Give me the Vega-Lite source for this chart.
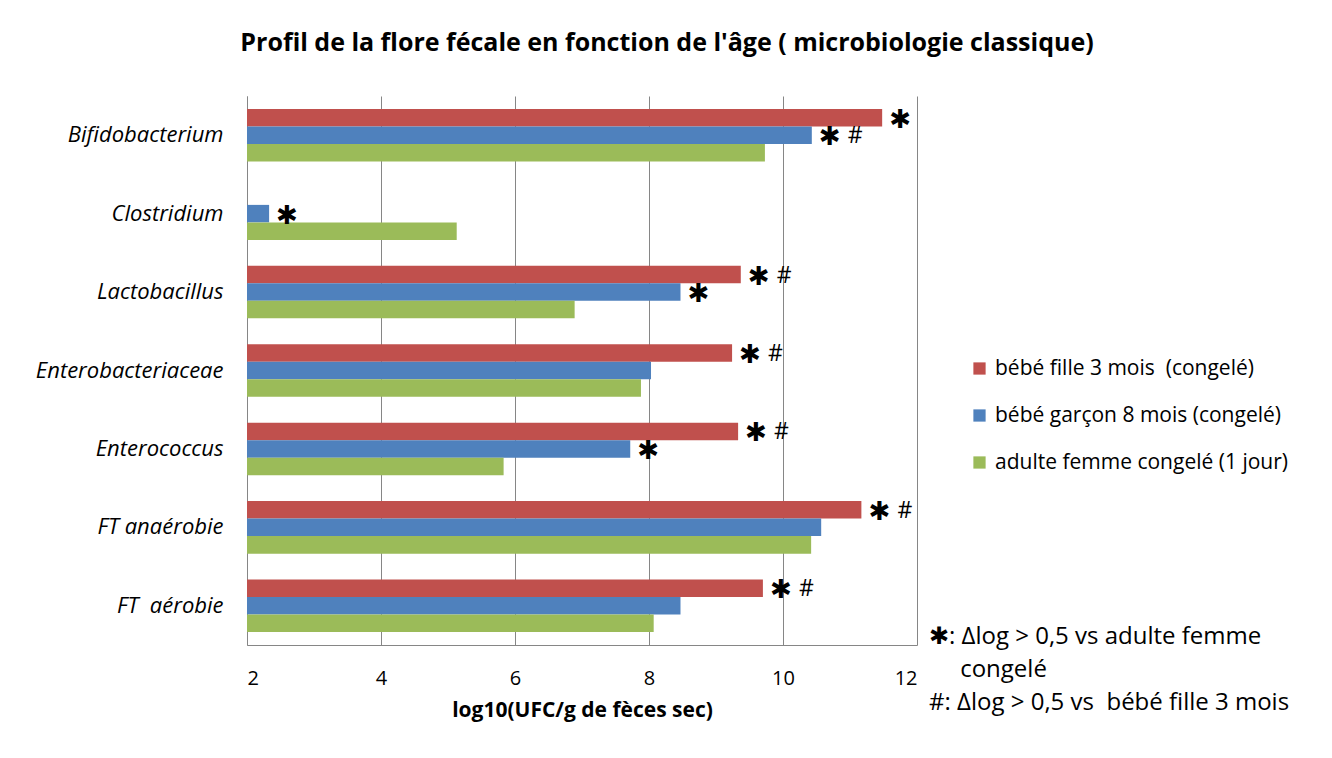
{
  "$schema": "https://vega.github.io/schema/vega-lite/v6.json",
  "autosize": "none",
  "width": 670,
  "height": 549,
  "padding": {"left": 247, "top": 96, "right": 415, "bottom": 113},
  "background": "white",
  "title": {
    "text": "Profil de la flore fécale en fonction de l'âge ( microbiologie classique)",
    "font": "Open Sans",
    "fontSize": 25,
    "fontWeight": "bold",
    "color": "black",
    "anchor": "middle",
    "frame": "group",
    "dx": 85,
    "offset": 40
  },
  "config": {
    "view": {"stroke": null},
    "font": "Open Sans"
  },
  "datasets": {
    "bars": [
      {"category": "Bifidobacterium", "series": "bébé fille 3 mois  (congelé)", "value": 11.48, "star": "✱", "hash": null},
      {"category": "Bifidobacterium", "series": "bébé garçon 8 mois (congelé)", "value": 10.43, "star": "✱", "hash": "#"},
      {"category": "Bifidobacterium", "series": "adulte femme congelé (1 jour)", "value": 9.73, "star": null, "hash": null},
      {"category": "Clostridium", "series": "bébé garçon 8 mois (congelé)", "value": 2.33, "star": "✱", "hash": null},
      {"category": "Clostridium", "series": "adulte femme congelé (1 jour)", "value": 5.13, "star": null, "hash": null},
      {"category": "Lactobacillus", "series": "bébé fille 3 mois  (congelé)", "value": 9.37, "star": "✱", "hash": "#"},
      {"category": "Lactobacillus", "series": "bébé garçon 8 mois (congelé)", "value": 8.47, "star": "✱", "hash": null},
      {"category": "Lactobacillus", "series": "adulte femme congelé (1 jour)", "value": 6.89, "star": null, "hash": null},
      {"category": "Enterobacteriaceae", "series": "bébé fille 3 mois  (congelé)", "value": 9.24, "star": "✱", "hash": "#"},
      {"category": "Enterobacteriaceae", "series": "bébé garçon 8 mois (congelé)", "value": 8.03, "star": null, "hash": null},
      {"category": "Enterobacteriaceae", "series": "adulte femme congelé (1 jour)", "value": 7.88, "star": null, "hash": null},
      {"category": "Enterococcus", "series": "bébé fille 3 mois  (congelé)", "value": 9.33, "star": "✱", "hash": "#"},
      {"category": "Enterococcus", "series": "bébé garçon 8 mois (congelé)", "value": 7.72, "star": "✱", "hash": null},
      {"category": "Enterococcus", "series": "adulte femme congelé (1 jour)", "value": 5.83, "star": null, "hash": null},
      {"category": "FT anaérobie", "series": "bébé fille 3 mois  (congelé)", "value": 11.17, "star": "✱", "hash": "#"},
      {"category": "FT anaérobie", "series": "bébé garçon 8 mois (congelé)", "value": 10.57, "star": null, "hash": null},
      {"category": "FT anaérobie", "series": "adulte femme congelé (1 jour)", "value": 10.42, "star": null, "hash": null},
      {"category": "FT  aérobie", "series": "bébé fille 3 mois  (congelé)", "value": 9.70, "star": "✱", "hash": "#"},
      {"category": "FT  aérobie", "series": "bébé garçon 8 mois (congelé)", "value": 8.47, "star": null, "hash": null},
      {"category": "FT  aérobie", "series": "adulte femme congelé (1 jour)", "value": 8.07, "star": null, "hash": null}
    ],
    "notes": [
      {"note": "✱: Δlog > 0,5 vs adulte femme"},
      {"note": "\u200b\u00a0\u00a0\u00a0\u00a0\u00a0congelé"},
      {"note": "#: Δlog > 0,5 vs\u00a0\u00a0bébé fille 3 mois"}
    ]
  },
  "layer": [
    {
      "data": {"name": "bars"},
      "mark": {"type": "bar"},
      "encoding": {
        "y": {
          "field": "category", "type": "nominal",
          "scale": {"domain": ["Bifidobacterium", "Clostridium", "Lactobacillus", "Enterobacteriaceae", "Enterococcus", "FT anaérobie", "FT  aérobie"], "paddingInner": 0.33, "paddingOuter": 0.165},
          "axis": {"title": null, "labelFontStyle": "italic", "labelFontSize": 22, "labelColor": "black", "labelPadding": 24, "labelLimit": 400, "ticks": false, "tickSize": 0, "domainColor": "#868686", "grid": false, "labelFont": "Open Sans", "labelExpr": "replace(datum.label, '  ', '\u00a0\u00a0')"}
        },
        "yOffset": {
          "field": "series", "type": "nominal",
          "scale": {"domain": ["bébé fille 3 mois  (congelé)", "bébé garçon 8 mois (congelé)", "adulte femme congelé (1 jour)"], "paddingInner": 0, "paddingOuter": 0}
        },
        "x": {
          "field": "value", "type": "quantitative",
          "scale": {"domain": [2, 12], "zero": false, "nice": false},
          "axis": {"title": "log10(UFC/g de fèces sec)", "values": [2, 4, 6, 8, 10, 12], "format": "d", "labelFontSize": 20, "labelColor": "black", "labelPadding": 23, "ticks": false, "tickSize": 0, "domainColor": "#868686", "gridColor": "#868686", "grid": true, "titleFontSize": 21, "titleFontWeight": "bold", "titleColor": "black", "titlePadding": 11, "labelFont": "Open Sans", "titleFont": "Open Sans"}
        },
        "x2": {"datum": 2},
        "color": {
          "field": "series", "type": "nominal",
          "scale": {"domain": ["bébé fille 3 mois  (congelé)", "bébé garçon 8 mois (congelé)", "adulte femme congelé (1 jour)"], "range": ["#C0504D", "#4F81BD", "#9BBB59"]},
          "legend": {"title": null, "orient": "none", "legendX": 722, "legendY": 262, "symbolType": "square", "symbolSize": 150, "symbolStrokeWidth": 0, "labelFontSize": 21, "labelColor": "black", "labelFont": "Open Sans", "rowPadding": 25, "labelOffset": 5, "padding": 0, "labelLimit": 500, "labelExpr": "replace(datum.label, '  ', '\u00a0\u00a0')"}
        }
      }
    },
    {
      "data": {"name": "bars"},
      "transform": [{"filter": "datum.star != null"}],
      "mark": {"type": "text", "align": "left", "baseline": "middle", "dx": 7, "dy": 2, "fontSize": 26, "font": "DejaVu Sans", "color": "black"},
      "encoding": {
        "y": {"field": "category", "type": "nominal"},
        "yOffset": {"field": "series", "type": "nominal"},
        "x": {"field": "value", "type": "quantitative"},
        "text": {"field": "star"}
      }
    },
    {
      "data": {"name": "bars"},
      "transform": [{"filter": "datum.hash != null"}],
      "mark": {"type": "text", "align": "left", "baseline": "middle", "dx": 36, "dy": 1, "fontSize": 23, "font": "Open Sans", "color": "black"},
      "encoding": {
        "y": {"field": "category", "type": "nominal"},
        "yOffset": {"field": "series", "type": "nominal"},
        "x": {"field": "value", "type": "quantitative"},
        "text": {"field": "hash"}
      }
    },
    {
      "data": {"name": "notes"},
      "mark": {"type": "point", "opacity": 0},
      "encoding": {
        "shape": {
          "field": "note", "type": "nominal",
          "scale": {"domain": ["✱: Δlog > 0,5 vs adulte femme", "\u200b\u00a0\u00a0\u00a0\u00a0\u00a0congelé", "#: Δlog > 0,5 vs\u00a0\u00a0bébé fille 3 mois"]},
          "legend": {"title": null, "orient": "none", "legendX": 658, "legendY": 529, "symbolSize": 0, "symbolOpacity": 0, "labelOffset": 0, "labelFontSize": 24, "labelColor": "black", "labelFont": "Open Sans", "rowPadding": 9, "padding": 0, "labelLimit": 500}
        }
      }
    }
  ]
}
